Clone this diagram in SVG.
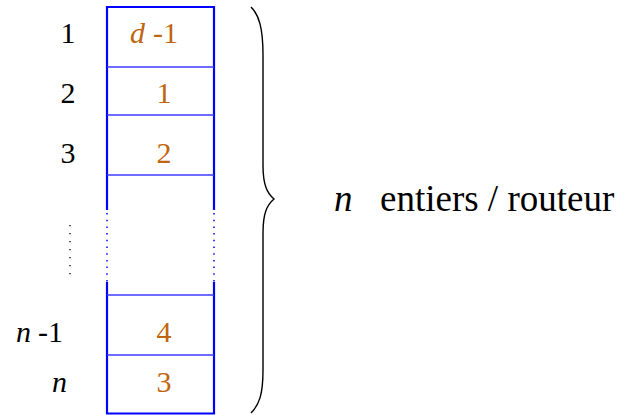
<svg xmlns="http://www.w3.org/2000/svg" width="633" height="415" viewBox="0 0 633 415">
<style>
.lbl{font-size:30px;fill:#000}
.val{font-size:30px;fill:#c0650f}
.it{font-style:italic}
.big{font-size:37px}
.side{stroke:#0000ff;stroke-width:2.2;fill:none}
.sep{stroke:#3d3dff;stroke-width:1.3;fill:none}
.dot{stroke:#0000ff;stroke-width:1.5;stroke-dasharray:1.5,5.2;fill:none}
</style>
<rect width="633" height="415" fill="#fff"/>
<g id="array">
  <line class="side" x1="107" y1="6" x2="107" y2="210"/>
  <line class="side" x1="214" y1="6" x2="214" y2="210"/>
  <line class="side" x1="107" y1="282" x2="107" y2="414"/>
  <line class="side" x1="214" y1="282" x2="214" y2="414"/>
  <line class="dot" x1="107" y1="213" x2="107" y2="282"/>
  <line class="dot" x1="214" y1="213" x2="214" y2="282"/>
  <line class="side" x1="106" y1="7" x2="215" y2="7"/>
  <line class="side" x1="106" y1="413.5" x2="215" y2="413.5"/>
  <line class="sep" x1="107" y1="67" x2="214" y2="67"/>
  <line class="sep" x1="107" y1="115" x2="214" y2="115"/>
  <line class="sep" x1="107" y1="175" x2="214" y2="175"/>
  <line class="sep" x1="107" y1="295" x2="214" y2="295"/>
  <line class="sep" x1="107" y1="355" x2="214" y2="355"/>
</g>
<g font-family="Liberation Serif, DejaVu Serif, serif">
<g id="cell1">
  <text class="lbl" x="68" y="43" text-anchor="middle">1</text>
  <text class="val it" x="130" y="43">d</text>
  <text class="val" x="153" y="43">-1</text>
</g>
<g id="cell2">
  <text class="lbl" x="68" y="103" text-anchor="middle">2</text>
  <text class="val" x="164" y="103" text-anchor="middle">1</text>
</g>
<g id="cell3">
  <text class="lbl" x="68" y="163" text-anchor="middle">3</text>
  <text class="val" x="164" y="163" text-anchor="middle">2</text>
</g>
<g id="celln1">
  <text class="lbl it" x="16" y="342">n</text>
  <text class="lbl" x="38" y="342">-1</text>
  <text class="val" x="164" y="342" text-anchor="middle">4</text>
</g>
<g id="celln">
  <text class="lbl it" x="52" y="392">n</text>
  <text class="val" x="164" y="392" text-anchor="middle">3</text>
</g>
<g id="caption">
  <text class="lbl it big" x="334" y="211">n</text>
  <text class="lbl big" x="380" y="211">entiers / routeur</text>
</g>
</g>
<g id="ellipsis">
  <line x1="70" y1="225" x2="70" y2="277" stroke="#000" stroke-width="1.3" stroke-dasharray="1.3,6.7"/>
</g>
<g id="brace">
  <path d="M251,7 C259,15 263,28 263,55 L263,165 C263,185 267,193 274,199 C267,205 263,213 263,233 L263,370 C263,395 259,405 251,413" fill="none" stroke="#000" stroke-width="1.4"/>
</g>
</svg>
